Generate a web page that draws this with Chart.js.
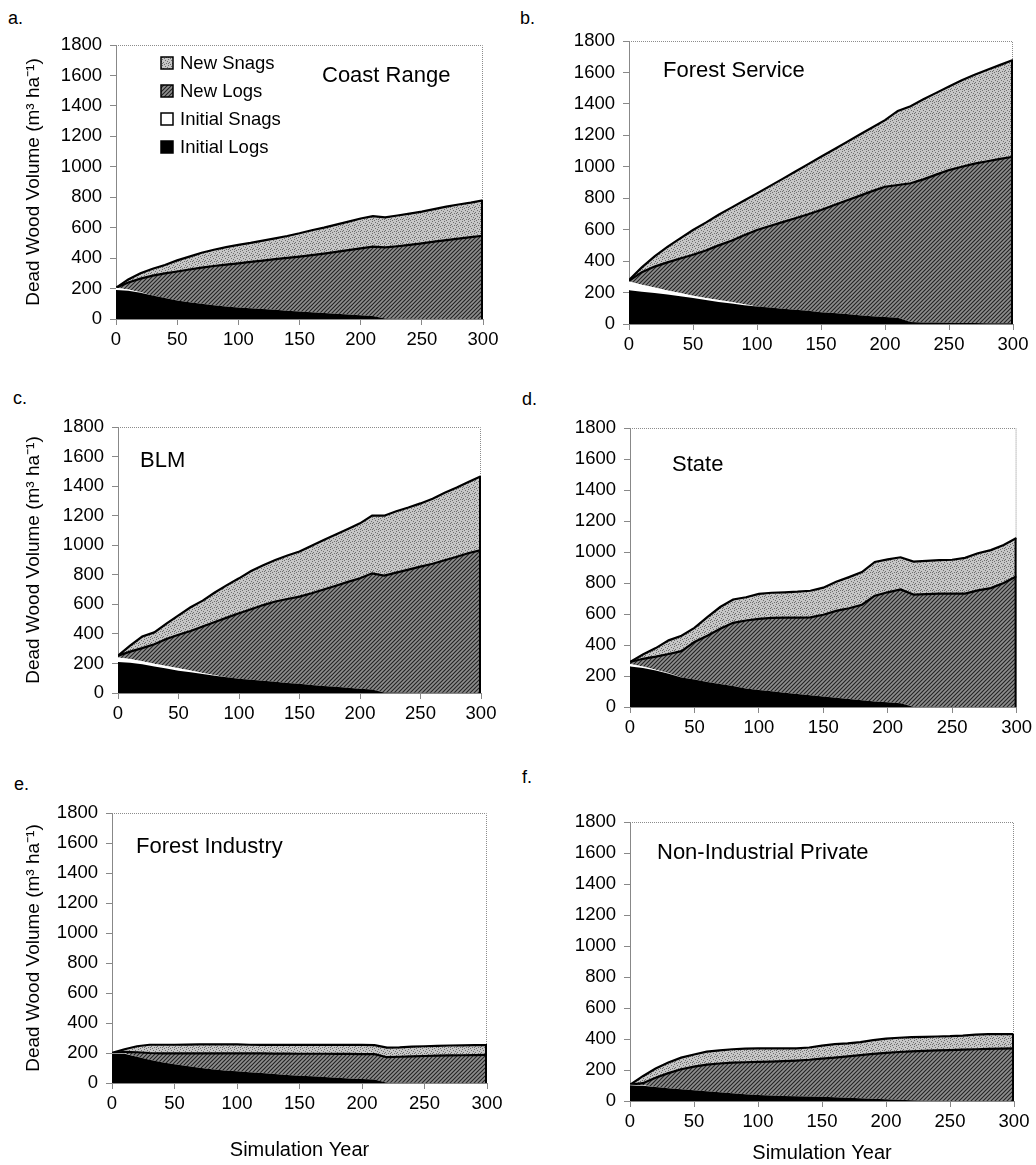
<!DOCTYPE html>
<html>
<head>
<meta charset="utf-8">
<script src="https://cdn.jsdelivr.net/npm/chart.js@4.4.0/dist/chart.umd.min.js"></script>
<style>
  body { margin: 0; background: #fff; width: 1036px; height: 1165px; position: relative; overflow: hidden; font-family: "Liberation Sans", Arial, sans-serif; }
  canvas { position: absolute; }
  .lt { position: absolute; font-size: 18px; line-height: 21px; color: #000; }
</style>
</head>
<body>
<div class="lt" style="left:8px;top:8px">a.</div>
<div class="lt" style="left:520px;top:8px">b.</div>
<div class="lt" style="left:13px;top:388px">c.</div>
<div class="lt" style="left:522px;top:389px">d.</div>
<div class="lt" style="left:14px;top:774px">e.</div>
<div class="lt" style="left:522px;top:767px">f.</div>

<canvas id="pa"></canvas>
<canvas id="pb"></canvas>
<canvas id="pc"></canvas>
<canvas id="pd"></canvas>
<canvas id="pe"></canvas>
<canvas id="pf"></canvas>

<script>
// dead wood volume, stacked layers, every 10 years
var years = [0,10,20,30,40,50,60,70,80,90,100,110,120,130,140,150,160,170,180,190,200,210,220,230,240,250,260,270,280,290,300];
var seriesNames = ['Initial Logs', 'Initial Snags', 'New Logs', 'New Snags'];
var panelNames = ['Coast Range', 'Forest Service', 'BLM', 'State', 'Forest Industry', 'Non-Industrial Private'];
var yTicks = [0, 1800, 200];
var xTicks = [0, 300, 50];

// a. Coast Range
var ilA = [190,185,172,155,138,122,110,100,90,82,75,70,65,60,55,50,45,40,35,30,25,20,3,2,1,0,0,0,0,0,0];
var isA = [15,8,3,0,0,0,0,0,0,0,0,0,0,0,0,0,0,0,0,0,0,0,0,0,0,0,0,0,0,0,0];
var nlA = [0,47,90,130,162,190,215,238,258,275,291,305,319,333,346,360,375,390,406,422,439,455,467,476,486,497,508,518,528,538,547];
var nsA = [0,20,35,45,55,73,85,97,107,115,121,125,131,137,144,153,163,170,179,188,196,201,198,202,205,208,214,220,224,227,233];

// b. Forest Service
var ilB = [215,205,197,188,177,165,152,140,130,120,112,105,97,90,84,75,70,63,56,50,45,40,12,10,9,8,7,6,5,5,4];
var isB = [55,45,35,25,20,15,13,12,10,6,0,0,0,0,0,0,0,0,0,0,0,0,0,0,0,0,0,0,0,0,0];
var nlB = [5,80,133,179,220,260,302,348,390,439,486,518,551,583,614,650,685,722,759,795,828,844,883,910,941,971,993,1014,1030,1045,1060];
var nsB = [5,30,65,98,128,158,178,195,210,220,233,254,275,297,319,339,355,372,389,405,424,471,490,510,520,531,550,565,582,598,615];

// c. BLM
var ilC = [210,205,195,180,165,151,140,128,116,106,97,90,83,76,68,62,54,48,42,35,29,24,4,3,2,2,1,1,1,0,0];
var isC = [30,25,20,18,17,16,12,8,4,0,0,0,0,0,0,0,0,0,0,0,0,0,0,0,0,0,0,0,0,0,0];
var nlC = [12,50,89,132,183,227,268,314,360,404,443,477,512,543,568,590,621,652,684,717,747,786,791,812,833,853,874,897,921,947,967];
var nsC = [0,40,78,80,105,131,160,175,200,220,236,258,270,281,294,306,322,335,346,358,372,390,405,415,420,428,440,457,468,483,500];

// d. State
var ilD = [262,252,235,215,191,178,162,148,135,120,110,101,92,84,76,68,60,52,43,36,30,24,2,1,1,0,0,0,0,0,0];
var isD = [15,10,5,2,0,0,0,0,0,0,0,0,0,0,0,0,0,0,0,0,0,0,0,0,0,0,0,0,0,0,0];
var nlD = [13,49,85,125,169,242,298,357,408,438,458,474,484,492,502,527,560,585,617,682,710,734,723,727,731,732,732,752,767,800,844];
var nsD = [0,28,55,88,100,90,120,140,151,150,162,162,164,168,172,175,188,201,210,218,212,208,213,215,215,218,230,240,245,245,247];

// e. Forest Industry
var ilE = [195,195,175,155,138,125,113,102,92,84,78,72,66,60,54,49,45,40,35,30,26,23,2,1,1,0,0,0,0,0,0];
var isE = [5,3,0,0,0,0,0,0,0,0,0,0,0,0,0,0,0,0,0,0,0,0,0,0,0,0,0,0,0,0,0];
var nlE = [0,10,30,45,60,73,85,96,106,114,120,125,131,136,142,146,150,155,159,164,167,169,170,174,177,180,182,184,185,186,187];
var nsE = [0,17,40,55,57,57,58,60,59,60,60,58,57,58,58,59,59,59,60,60,61,61,64,63,64,65,66,66,66,66,66];

// f. Non-Industrial Private
var ilF = [100,98,90,82,76,70,63,56,50,44,39,36,33,31,29,28,25,21,17,14,11,8,5,2,1,0,0,0,0,0,0];
var isF = [5,3,1,0,0,0,0,0,0,0,0,0,0,0,0,0,0,0,0,0,0,0,0,0,0,0,0,0,0,0,0];
var nlF = [0,14,59,98,129,152,172,186,197,206,213,218,224,230,237,245,255,267,279,290,300,308,315,321,325,328,331,334,336,338,340];
var nsF = [0,45,60,68,75,78,83,85,87,88,88,86,83,79,79,84,87,84,84,89,92,92,92,91,90,90,91,94,96,94,92];

var FONT = '"Liberation Sans", Arial, sans-serif';
Chart.defaults.font.family = FONT;
Chart.defaults.color = '#000';

// fill textures
function hatch() {
  var c = document.createElement('canvas');
  c.width = 4; c.height = 4;
  var g = c.getContext('2d');
  g.fillStyle = '#8e8e8e';
  g.fillRect(0, 0, 4, 4);
  g.strokeStyle = '#222';
  g.lineWidth = 1.1;
  g.beginPath();
  g.moveTo(-1, 5); g.lineTo(5, -1);
  g.moveTo(-1, 1); g.lineTo(1, -1);
  g.moveTo(3, 5); g.lineTo(5, 3);
  g.stroke();
  return g.createPattern(c, 'repeat');
}
function stipple() {
  var c = document.createElement('canvas');
  c.width = 6; c.height = 6;
  var g = c.getContext('2d');
  g.fillStyle = '#c6c6c6';
  g.fillRect(0, 0, 6, 6);
  g.fillStyle = '#6e6e6e';
  var dots = [[0,0],[3,1],[1,3],[4,4],[5,2],[2,5],[0,4]];
  dots.forEach(function (d) { g.fillRect(d[0], d[1], 1, 1); });
  return g.createPattern(c, 'repeat');
}
var fills = ['#000', '#fff', hatch(), stipple()];

var panelDeco = {
  id: 'panelDeco',
  afterDraw: function (chart, args, o) {
    var ctx = chart.ctx, a = chart.chartArea;
    var xs = chart.scales.x, ys = chart.scales.y;
    ctx.save();
    // dotted frame top and right
    ctx.strokeStyle = '#8c8c8c';
    ctx.lineWidth = 1;
    ctx.setLineDash([1, 1]);
    ctx.beginPath();
    ctx.moveTo(a.left, a.top + 0.5);
    ctx.lineTo(a.right - 0.5, a.top + 0.5);
    ctx.lineTo(a.right - 0.5, a.bottom);
    ctx.stroke();
    ctx.setLineDash([]);
    // closing edge of the stack at the last year
    var ds = chart.data.datasets, last = ds[0].data.length - 1, tot = 0;
    ds.forEach(function (d) { tot += d.data[last].y; });
    var xe = xs.getPixelForValue(ds[0].data[last].x);
    ctx.strokeStyle = '#000';
    ctx.lineWidth = 2;
    ctx.beginPath();
    ctx.moveTo(xe - 1, ys.getPixelForValue(0));
    ctx.lineTo(xe - 1, ys.getPixelForValue(tot));
    ctx.stroke();
    // panel name
    ctx.fillStyle = '#000';
    ctx.font = '22px ' + FONT;
    ctx.textBaseline = 'middle';
    ctx.textAlign = 'left';
    ctx.fillText(o.name, a.left + o.nx, a.top + o.ny);
    // legend box list
    if (o.legend) {
      ctx.font = '18.5px ' + FONT;
      for (var k = 0; k < ds.length; k++) {
        var d = ds[ds.length - 1 - k];
        var cy = a.top + 18 + k * 28;
        var bx = a.left + 45;
        ctx.fillStyle = d.backgroundColor;
        ctx.fillRect(bx, cy - 6, 12, 12);
        ctx.strokeStyle = '#000';
        ctx.lineWidth = 1.5;
        ctx.strokeRect(bx, cy - 6, 12, 12);
        ctx.fillStyle = '#000';
        ctx.fillText(d.label, a.left + 64, cy + 1);
      }
    }
    ctx.restore();
  }
};

var panels = [
  { id: 'pa', name: panelNames[0], series: [ilA, isA, nlA, nsA], area: [116, 483, 45, 319], xh: 35, yTitle: true, xTitle: false, nx: 206, ny: 31, legend: true },
  { id: 'pb', name: panelNames[1], series: [ilB, isB, nlB, nsB], area: [629, 1013, 41, 324], xh: 35, yTitle: false, xTitle: false, nx: 34, ny: 30 },
  { id: 'pc', name: panelNames[2], series: [ilC, isC, nlC, nsC], area: [118, 481, 427, 693], xh: 35, yTitle: true, xTitle: false, nx: 22, ny: 34 },
  { id: 'pd', name: panelNames[3], series: [ilD, isD, nlD, nsD], area: [630, 1017, 428, 707], xh: 35, yTitle: false, xTitle: false, nx: 42, ny: 37 },
  { id: 'pe', name: panelNames[4], series: [ilE, isE, nlE, nsE], area: [112, 487, 813, 1083], xh: 83, yTitle: true, xTitle: true, nx: 24, ny: 34 },
  { id: 'pf', name: panelNames[5], series: [ilF, isF, nlF, nsF], area: [630, 1014, 822, 1101], xh: 68, yTitle: false, xTitle: true, nx: 27, ny: 31 }
];

panels.forEach(function (p) {
  var left = p.area[0], right = p.area[1], top = p.area[2], bottom = p.area[3];
  var colX = left < 500 ? 0 : 518, colW = 518, padTop = 40;
  var cv = document.getElementById(p.id);
  cv.width = colW;
  cv.height = padTop + (bottom - top) + p.xh;
  cv.style.left = colX + 'px';
  cv.style.top = (top - padTop) + 'px';

  var datasets = p.series.map(function (vals, i) {
    return {
      label: seriesNames[i],
      data: years.map(function (yr, j) { return { x: yr, y: vals[j] }; }),
      fill: i === 0 ? 'origin' : '-1',
      backgroundColor: fills[i],
      borderColor: '#000',
      borderWidth: i >= 2 ? 2.2 : 0,
      pointRadius: 0,
      tension: 0
    };
  });

  new Chart(cv, {
    type: 'line',
    data: { datasets: datasets },
    options: {
      responsive: false,
      animation: false,
      devicePixelRatio: 1,
      layout: { padding: { top: padTop, right: colX + colW - right, left: 0, bottom: 0 } },
      plugins: {
        legend: { display: false },
        tooltip: { enabled: false },
        panelDeco: { name: p.name, nx: p.nx, ny: p.ny, legend: !!p.legend }
      },
      scales: {
        x: {
          type: 'linear',
          min: xTicks[0], max: xTicks[1],
          afterFit: function (s) { s.height = p.xh; },
          ticks: { stepSize: xTicks[2], font: { size: 18.5 }, padding: 4, maxRotation: 0,
                   callback: function (v) { return String(v); } },
          grid: { drawOnChartArea: false, tickLength: 6, color: '#888' },
          border: { color: '#888' },
          title: { display: p.xTitle, text: 'Simulation Year', font: { size: 20 }, padding: { top: 0, bottom: 4 } }
        },
        y: {
          stacked: true,
          min: yTicks[0], max: yTicks[1],
          afterFit: function (s) { s.width = left - colX; },
          ticks: { stepSize: yTicks[2], font: { size: 18.5 }, padding: 8,
                   callback: function (v) { return String(v); } },
          grid: { drawOnChartArea: false, tickLength: 6, color: '#888' },
          border: { color: '#888' },
          title: { display: p.yTitle, text: 'Dead Wood Volume (m³ ha⁻¹)', font: { size: 19 }, padding: { top: 22, bottom: 0 } }
        }
      }
    },
    plugins: [panelDeco]
  });
});
</script>
</body>
</html>
